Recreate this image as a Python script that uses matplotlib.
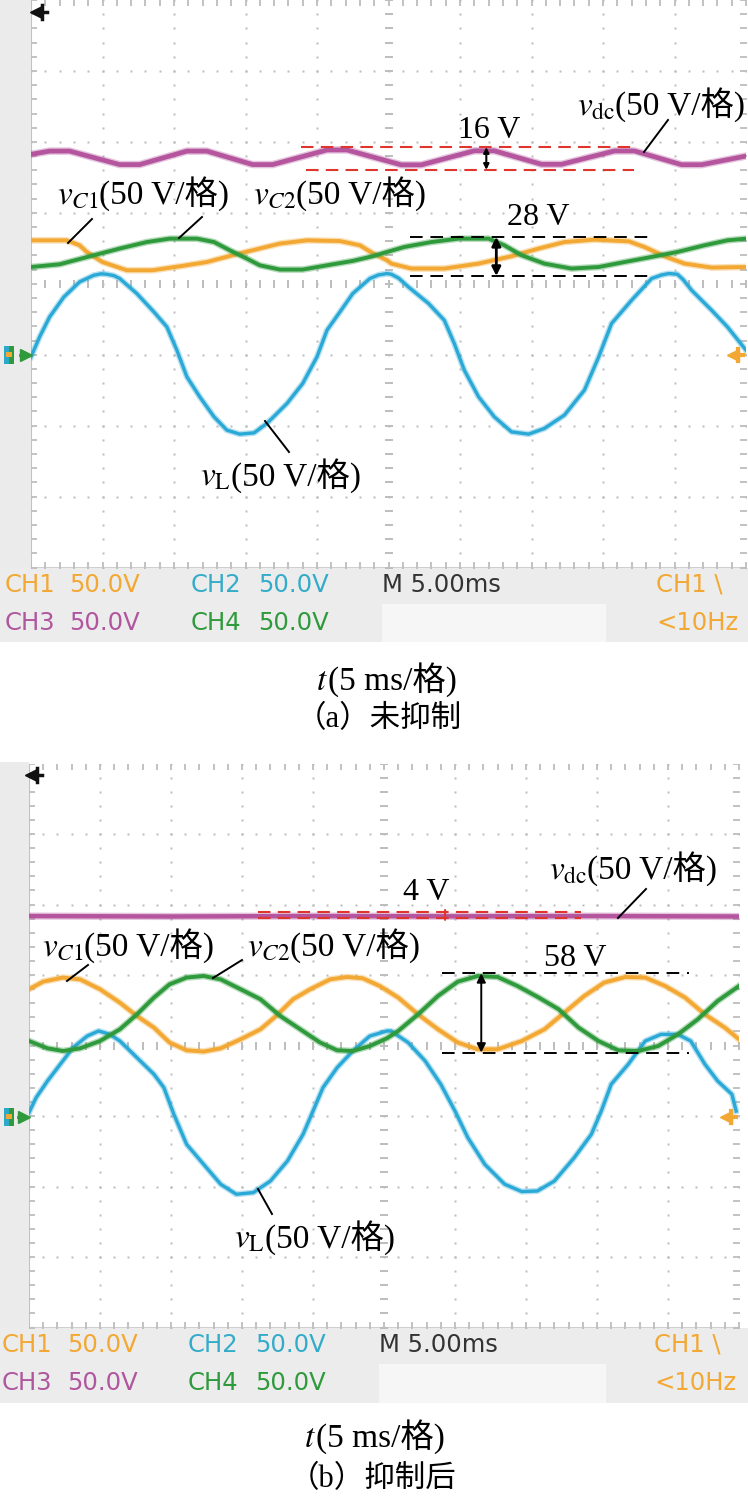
import matplotlib
matplotlib.use("Agg")
import matplotlib.pyplot as plt
import numpy as np
from matplotlib.patches import Rectangle
from matplotlib.lines import Line2D

plt.rcParams['mathtext.fontset'] = 'stix'

# ---------------- data (t in ms, voltage in V, ground = 0 V) ----------------
# panel (a) before suppression
t_dc_a = [0.0, 1.3, 2.7, 6.2, 7.6, 10.9, 12.3, 15.5, 16.9, 20.7, 22.1, 25.9, 27.3,
          31.0, 32.4, 35.7, 37.1, 40.8, 42.2, 45.5, 46.9, 50.0]
v_dc_a = [141.2, 143.5, 143.5, 134.0, 134.0, 143.5, 143.5, 134.0, 134.0, 144.3, 144.3,
          133.8, 133.8, 143.7, 143.7, 134.2, 134.2, 143.6, 143.6, 133.9, 133.9, 140.0]

t_c1_a = [0.0, 2.5, 3.4, 3.9, 5.0, 6.7, 8.5, 10.4, 12.3, 14.1, 15.5, 17.4, 19.3, 21.6,
          23.0, 23.9, 24.9, 25.2, 26.6, 28.9, 31.3, 33.6, 35.5, 37.3, 39.4, 41.8, 42.9,
          44.3, 45.7, 47.6, 50.0]
v_c1_a = [80.6, 80.6, 77.1, 72.4, 65.3, 59.5, 59.5, 62.3, 65.3, 70.1, 73.6, 78.3, 80.6,
          80.1, 77.1, 71.5, 66.5, 64.2, 60.7, 60.7, 64.2, 69.4, 74.8, 79.4, 81.1, 79.9,
          75.9, 69.4, 64.2, 61.4, 61.8]

t_c2_a = [0.0, 2.0, 4.4, 6.2, 8.1, 9.7, 11.6, 12.8, 13.9, 15.1, 16.0, 17.4, 19.0, 20.7,
          22.5, 23.9, 24.9, 26.1, 28.0, 29.9, 32.0, 33.1, 34.3, 35.9, 37.8, 39.7, 41.5,
          43.4, 45.2, 47.1, 48.7, 50.0]
v_c2_a = [61.8, 63.7, 70.1, 74.8, 79.4, 81.8, 81.8, 79.4, 73.6, 67.7, 63.0, 60.0, 60.0,
          63.0, 66.1, 69.4, 72.4, 75.9, 79.4, 81.8, 81.8, 77.1, 70.1, 64.2, 60.7, 61.8,
          65.3, 68.9, 72.4, 77.1, 80.6, 81.8]

t_l_a = [0.0, 0.6, 1.3, 2.3, 3.4, 4.4, 4.9, 5.3, 5.8, 6.2, 7.4, 8.6, 9.5, 10.2, 10.9,
         11.8, 12.8, 13.7, 14.6, 15.6, 16.5, 17.9, 19.0, 20.0, 20.7, 21.6, 22.5, 23.7,
         24.3, 24.9, 25.2, 25.7, 26.4, 27.8, 28.9, 29.6, 30.3, 31.3, 32.4, 33.6, 34.8,
         35.9, 37.3, 38.7, 39.7, 40.6, 42.0, 43.4, 44.1, 44.6, 45.2, 45.6, 46.2, 47.6,
         48.7, 50.0]
v_l_a = [-1.5, 12.5, 26.6, 40.7, 51.3, 56.0, 57.0, 56.7, 55.7, 53.7, 43.1, 30.1, 19.6,
         3.2, -15.6, -29.7, -43.8, -53.2, -56.0, -55.1, -48.4, -34.4, -20.3, -1.5, 17.3,
         30.1, 43.1, 53.7, 56.2, 57.2, 56.7, 54.0, 47.7, 36.1, 24.3, 7.9, -10.9, -29.7,
         -43.8, -54.4, -56.0, -52.0, -42.6, -25.0, -1.5, 22.0, 38.4, 53.7, 56.2, 57.2,
         56.7, 53.0, 45.4, 31.3, 19.6, 3.2]

# panel (b) after suppression
t_dc_b = [0.0, 10.0, 20.0, 30.0, 40.0, 50.0]
v_dc_b = [141.8, 141.5, 141.8, 141.6, 141.8, 141.5]

t_c1_b = [0.0, 1.0, 2.4, 3.6, 5.0, 6.4, 7.6, 8.8, 9.9, 11.1, 12.3, 13.5, 14.9, 16.3,
          17.4, 18.6, 19.8, 21.2, 22.4, 23.5, 24.7, 26.0, 27.4, 28.8, 30.2, 31.6, 33.0,
          34.7, 36.3, 37.7, 39.1, 40.5, 42.0, 43.4, 44.8, 46.2, 47.6, 49.0, 50.0]
v_c1_b = [89.9, 95.3, 98.2, 96.9, 89.9, 80.4, 70.9, 62.7, 52.1, 46.6, 45.7, 48.0, 54.4,
          61.5, 70.9, 82.8, 89.9, 96.9, 98.6, 97.7, 92.2, 84.0, 72.1, 61.5, 52.1, 47.3,
          47.3, 53.2, 61.5, 73.3, 85.1, 94.6, 98.6, 98.2, 92.2, 84.0, 72.1, 62.7, 54.4]

t_c2_b = [0.0, 1.3, 2.4, 3.6, 5.0, 6.4, 7.6, 8.8, 9.9, 11.1, 12.3, 13.5, 14.9, 16.3,
          17.7, 19.1, 20.5, 21.7, 22.8, 24.0, 25.2, 26.0, 27.4, 28.8, 30.2, 31.6, 33.0,
          34.4, 35.9, 37.3, 38.7, 40.1, 41.5, 42.9, 44.3, 45.7, 47.1, 48.5, 50.0]
v_c2_b = [53.2, 48.0, 46.1, 48.0, 53.2, 61.5, 72.1, 84.0, 93.4, 98.2, 99.3, 96.9, 89.9,
          82.8, 70.9, 61.5, 52.1, 46.6, 46.1, 49.6, 55.1, 60.3, 72.1, 85.1, 95.3, 99.3,
          98.6, 92.2, 84.0, 75.7, 62.7, 53.2, 46.6, 46.1, 49.6, 57.9, 68.6, 81.6, 92.2]

t_l_b = [0.0, 0.5, 1.3, 2.2, 3.1, 4.1, 4.9, 5.7, 6.4, 7.6, 8.8, 9.5, 10.2, 11.1, 12.3,
         13.5, 14.6, 15.8, 17.0, 18.2, 19.3, 20.0, 20.7, 21.7, 22.8, 24.0, 25.2, 25.5,
         26.7, 27.9, 29.0, 30.0, 30.9, 32.1, 33.5, 34.7, 35.8, 37.0, 38.4, 39.6, 40.3,
         41.0, 42.2, 43.4, 44.5, 45.7, 46.6, 47.6, 48.5, 49.5, 49.8]
v_l_b = [2.4, 13.0, 24.8, 36.7, 48.5, 56.7, 60.3, 57.9, 53.2, 41.4, 29.6, 20.1, 1.2,
         -20.1, -34.3, -48.4, -55.5, -54.3, -46.1, -31.9, -13.0, 3.5, 20.1, 34.3, 46.1,
         56.7, 60.3, 60.3, 52.1, 39.0, 22.5, 3.5, -15.3, -34.3, -48.4, -53.6, -53.2,
         -46.1, -29.5, -13.0, 3.5, 22.5, 36.7, 53.2, 57.9, 57.9, 53.2, 36.7, 24.8, 15.4,
         3.5]

# measurement markers (V) and their time spans (ms)
red_a = [146.3, 130.3]; red_span_a = [18.9, 42.2]
blk_a = [83.0, 55.5];   blk_span_a = [26.5, 43.6]
red_b = [144.6, 140.6]; red_span_b = [16.1, 38.9]
blk_b = [101.2, 45.0];  blk_span_b = [29.1, 46.5]
meas_labels_a = ["16 V", "28 V"]
meas_labels_b = ["4 V", "58 V"]

status_row1 = ["CH1", "50.0V", "CH2", "50.0V", "M 5.00ms", "CH1 \\"]
status_row2 = ["CH3", "50.0V", "CH4", "50.0V", "<10Hz"]

# ---------------- styling ----------------
ORANGE = '#f2a833'
CYAN = '#2ba9d6'
PURPLE = '#b4559e'
GREEN = '#2f9a3c'
RED = '#e0352c'
DOT = '#bdbdbd'

W, H = 748, 1502
fig = plt.figure(figsize=(W / 100, H / 100), dpi=100)
fig.patch.set_facecolor('white')


def P(x, y):
    return (x / W, 1 - y / H)


def bg(x0, y0, x1, y1, color):
    fig.patches.append(Rectangle(P(x0, y1), (x1 - x0) / W, (y1 - y0) / H,
                                 transform=fig.transFigure, facecolor=color,
                                 edgecolor='none', zorder=-5))


SERIF = ['Liberation Serif', 'Noto Sans CJK SC']
FS = 24
FS_MEAS = 23


def label(xj, yb, math, rest, fs=FS):
    fig.text(*P(xj, yb), math, ha='right', va='baseline', fontsize=fs)
    fig.text(*P(xj, yb), rest, ha='left', va='baseline', fontsize=fs, family=SERIF)


def leader(x0, y0, x1, y1):
    fig.add_artist(Line2D([x0 / W, x1 / W], [1 - y0 / H, 1 - y1 / H],
                          transform=fig.transFigure, color='black', lw=1.4))


def screen(ax):
    ax.set_xlim(0, 50)
    ax.set_ylim(-150, 250)
    ax.set_facecolor('white')
    for s in ax.spines.values():
        s.set_visible(False)
    ax.set_xticks([])
    ax.set_yticks([])
    ax.axvline(0, color='#c2c2c2', lw=1.5)
    ax.axhline(-150, color='#d0d0d0', lw=1.5)
    tt = np.arange(0, 50.01, 1.0)
    vv = np.arange(-150, 250.01, 10.0)
    for t in np.arange(5, 50, 5):
        if t != 25:
            ax.plot(np.full_like(vv, t), vv, ls='none', marker='s', ms=1.8,
                    color=DOT, mec='none')
    for v in np.arange(-100, 250, 50):
        if v != 50:
            ax.plot(tt, np.full_like(tt, v), ls='none', marker='s', ms=1.8,
                    color=DOT, mec='none')
    ax.plot(tt, np.full_like(tt, 50.0), ls='none', marker='|', ms=6, mew=1.4, color=DOT)
    ax.plot(np.full_like(vv, 25.0), vv, ls='none', marker='_', ms=6, mew=1.4, color=DOT)
    ax.plot(tt, np.full_like(tt, 250.0), ls='none', marker='|', ms=8, mew=1.3, color=DOT)
    ax.plot(tt, np.full_like(tt, -150.0), ls='none', marker='|', ms=8, mew=1.3, color=DOT)
    ax.plot(np.full_like(vv, 0.0), vv, ls='none', marker='_', ms=8, mew=1.3, color=DOT)
    ax.plot(np.full_like(vv, 50.0), vv, ls='none', marker='_', ms=8, mew=1.3, color=DOT)


def trace(ax, t, v, color, lw, z):
    ax.plot(t, v, color=color, lw=lw + 2.0, alpha=0.35, zorder=z, solid_joinstyle='round')
    ax.plot(t, v, color=color, lw=lw, zorder=z + 0.1, solid_joinstyle='round')


def traces(ax, tc1, vc1, tl, vl, tc2, vc2, tdc, vdc, dc_lw):
    trace(ax, tc1, vc1, ORANGE, 2.8, 3)
    trace(ax, tl, vl, CYAN, 2.4, 4)
    trace(ax, tc2, vc2, GREEN, 2.8, 5)
    trace(ax, tdc, vdc, PURPLE, dc_lw, 6)


def side_markers(xl, yg, xr):
    # ground reference markers (left) and trigger level marker (right)
    fig.patches.append(Rectangle(P(4, yg + 9), 5 / W, 18 / H, transform=fig.transFigure,
                                 facecolor='#2aa9c9', edgecolor='none', zorder=3))
    fig.patches.append(Rectangle(P(9, yg + 9), 5 / W, 18 / H, transform=fig.transFigure,
                                 facecolor=GREEN, edgecolor='none', zorder=3))
    fig.patches.append(Rectangle(P(6, yg + 2), 6 / W, 5 / H, transform=fig.transFigure,
                                 facecolor=ORANGE, edgecolor='none', zorder=4))
    fig.add_artist(Line2D([xl / W], [1 - yg / H], transform=fig.transFigure,
                          marker='>', ms=8, color=GREEN, ls='none'))
    fig.add_artist(Line2D([(xl - 6) / W, xl / W], [1 - yg / H, 1 - yg / H],
                          transform=fig.transFigure, color=GREEN, lw=2))
    fig.add_artist(Line2D([xr / W], [1 - yg / H], transform=fig.transFigure,
                          marker='<', ms=9, color=ORANGE, ls='none', zorder=8))
    fig.add_artist(Line2D([xr / W, (xr + 10) / W], [1 - yg / H, 1 - yg / H],
                          transform=fig.transFigure, color=ORANGE, lw=3, zorder=8))
    fig.add_artist(Line2D([(xr + 5) / W, (xr + 5) / W], [1 - (yg - 6) / H, 1 - (yg + 6) / H],
                          transform=fig.transFigure, color=ORANGE, lw=3, zorder=8))


def trig_marker(x, y):
    fig.add_artist(Line2D([x / W], [1 - y / H], transform=fig.transFigure,
                          marker='<', ms=9, color='#111111', ls='none', zorder=8))
    fig.add_artist(Line2D([x / W, (x + 11) / W], [1 - y / H, 1 - y / H],
                          transform=fig.transFigure, color='#111111', lw=2.5, zorder=8))
    fig.add_artist(Line2D([(x + 6) / W, (x + 6) / W], [1 - (y - 7) / H, 1 - (y + 7) / H],
                          transform=fig.transFigure, color='#111111', lw=2.5, zorder=8))


def status(y1, y2, xs, ybot, ytop):
    bg(0, ytop, W, ybot, '#ececec')
    bg(xs[4], (y1 + y2) / 2, 606, ybot, '#f6f6f6')
    fam = ['DejaVu Sans']
    cols1 = [ORANGE, ORANGE, '#33acc9', '#33acc9', '#333333', ORANGE]
    cols2 = ['#b0569e', '#b0569e', GREEN, GREEN, ORANGE]
    for s, c, x in zip(status_row1, cols1, xs):
        fig.text(*P(x, y1), s, color=c, ha='left', va='center', fontsize=17.5, family=fam)
    xs2 = xs[:4] + [xs[5]]
    for s, c, x in zip(status_row2, cols2, xs2):
        fig.text(*P(x, y2), s, color=c, ha='left', va='center', fontsize=17.5, family=fam)


# ---------------- panel (a) ----------------
bg(0, 0, 31, 567.5, '#ebebeb')
axA = fig.add_axes([31 / W, 1 - 567.5 / H, 715 / W, 567.5 / H])
screen(axA)
traces(axA, t_c1_a, v_c1_a, t_l_a, v_l_a, t_c2_a, v_c2_a, t_dc_a, v_dc_a, 3.4)
for v, x0 in zip(red_a, [18.9, 19.2]):
    axA.plot([x0, red_span_a[1]], [v, v], color=RED, lw=1.5, dashes=(6, 3.5), zorder=7)
for v in blk_a:
    axA.plot(blk_span_a, [v, v], color='black', lw=1.4, dashes=(6.5, 4), zorder=7)
axA.annotate('', xy=(31.84, red_a[0]), xytext=(31.84, red_a[1]),
             arrowprops=dict(arrowstyle='<|-|>', color='black', lw=1.5,
                             mutation_scale=8, shrinkA=0, shrinkB=0), zorder=8)
axA.annotate('', xy=(32.54, blk_a[0]), xytext=(32.54, blk_a[1]),
             arrowprops=dict(arrowstyle='<|-|>', color='black', lw=2.0,
                             mutation_scale=13, shrinkA=0, shrinkB=0), zorder=8)
side_markers(26, 354.7, 733)
trig_marker(36, 12)

label(615, 115, r'$v_{\mathrm{dc}}$', '(50 V/格)')
leader(668, 120, 644, 152)
fig.text(*P(489, 138.5), meas_labels_a[0], ha='center', va='baseline', fontsize=FS_MEAS, family=SERIF)
label(99, 204, r'$v_{C\mathrm{1}}$', '(50 V/格)')
leader(92, 219, 68, 243)
label(296, 204, r'$v_{C\mathrm{2}}$', '(50 V/格)')
leader(202, 217, 179, 238)
fig.text(*P(538.5, 225), meas_labels_a[1], ha='center', va='baseline', fontsize=FS_MEAS, family=SERIF)
label(231, 486, r'$v_{\mathrm{L}}$', '(50 V/格)')
leader(289, 452, 265, 421)

status(585, 623, [5, 69, 191, 258, 382, 656], 642, 567.5)
label(328, 690, r'$t$', '(5 ms/格)', fs=24)
fig.text(*P(379, 720), '（a）未抑制', ha='center', va='center', fontsize=22, family=SERIF)

# ---------------- panel (b) ----------------
bg(0, 762, 29, 1327.5, '#ebebeb')
axB = fig.add_axes([29 / W, 1 - 1327.5 / H, 710 / W, 564 / H])
screen(axB)
traces(axB, t_c1_b, v_c1_b, t_l_b, v_l_b, t_c2_b, v_c2_b, t_dc_b, v_dc_b, 3.2)
for v in red_b:
    axB.plot(red_span_b, [v, v], color=RED, lw=1.5, dashes=(6, 3.5), zorder=7)
for v in blk_b:
    axB.plot(blk_span_b, [v, v], color='black', lw=1.4, dashes=(6.5, 4), zorder=7)
axB.annotate('', xy=(29.3, red_b[0] + 1.5), xytext=(29.3, red_b[1] - 1.5),
             arrowprops=dict(arrowstyle='-', color=RED, lw=1.5,
                             shrinkA=0, shrinkB=0), zorder=8)
axB.annotate('', xy=(31.85, blk_b[0]), xytext=(31.85, blk_b[1]),
             arrowprops=dict(arrowstyle='<|-|>', color='black', lw=1.4,
                             mutation_scale=13, shrinkA=0, shrinkB=0), zorder=8)
side_markers(24, 1116.5, 726)
trig_marker(31, 775)

label(587, 879, r'$v_{\mathrm{dc}}$', '(50 V/格)')
leader(646, 889, 618, 918)
fig.text(*P(426, 900), meas_labels_b[0], ha='center', va='baseline', fontsize=FS_MEAS, family=SERIF)
label(84, 956, r'$v_{C\mathrm{1}}$', '(50 V/格)')
leader(88, 965, 67, 981)
label(290, 956, r'$v_{C\mathrm{2}}$', '(50 V/格)')
leader(242, 960, 213, 978)
fig.text(*P(575.5, 966), meas_labels_b[1], ha='center', va='baseline', fontsize=FS_MEAS, family=SERIF)
label(265, 1248, r'$v_{\mathrm{L}}$', '(50 V/格)')
leader(272, 1214, 258, 1189)

status(1345, 1383, [2, 67, 188, 255, 379, 654], 1403, 1327.5)
label(316, 1447, r'$t$', '(5 ms/格)', fs=24)
fig.text(*P(373, 1480), '（b）抑制后', ha='center', va='center', fontsize=22, family=SERIF)

fig.savefig('out.png', dpi=100, facecolor='white')
